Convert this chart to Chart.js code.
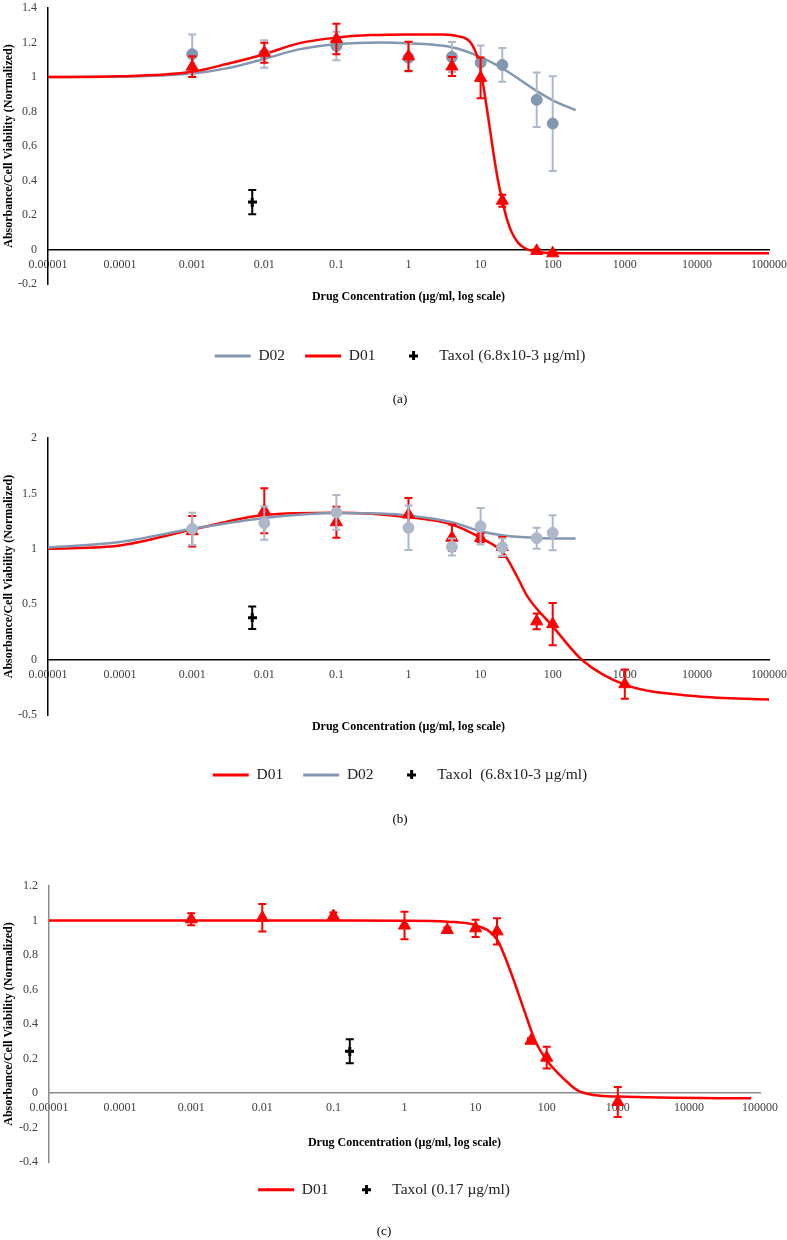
<!DOCTYPE html>
<html>
<head>
<meta charset="utf-8">
<script src="https://cdn.jsdelivr.net/npm/chart.js@4"></script>
<style>
  body { margin: 0; background: #fff; }
  canvas { display: block; }
</style>
</head>
<body>
<canvas id="chartA" width="787" height="412"></canvas>
<canvas id="chartB" width="787" height="418"></canvas>
<canvas id="chartC" width="787" height="410"></canvas>
<script>
// x axis ticks (shared by all three panels)
const xTickValues = [0.00001, 0.0001, 0.001, 0.01, 0.1, 1, 10, 100, 1000, 10000, 100000];
const xTickLabels = ['0.00001', '0.0001', '0.001', '0.01', '0.1', '1', '10', '100', '1000', '10000', '100000'];

// panel (a)
const concA = [0.001, 0.01, 0.1, 1, 4, 10, 20, 60, 100];
const d01A = [1.06, 1.141, 1.22, 1.12, 1.061, 0.995, 0.283, -0.008, -0.022];
const d01ErrA = [0.06, 0.058, 0.088, 0.085, 0.055, 0.118, 0.035, 0.01, 0.01];
const d02A = [1.132, 1.133, 1.18, 1.112, 1.116, 1.083, 1.07, 0.868, 0.73];
const d02ErrA = [0.115, 0.08, 0.083, 0.08, 0.087, 0.1, 0.098, 0.158, 0.275];
const fitConcD01A = [0.00001, 0.0001, 0.001, 0.003, 0.01, 0.03, 0.1, 0.3, 1, 3, 4.8, 7.3, 9.1, 10, 11, 12.4, 14, 16, 18, 20, 23, 27, 33, 40, 60, 100, 1000, 100000];
const fitD01A = [1.0, 1.004, 1.03, 1.075, 1.132, 1.195, 1.228, 1.243, 1.247, 1.247, 1.237, 1.199, 1.112, 1.04, 0.94, 0.8, 0.65, 0.49, 0.37, 0.285, 0.18, 0.1, 0.04, 0.01, -0.015, -0.02, -0.022, -0.022];
const fitConcD02A = [0.00001, 0.0001, 0.001, 0.003, 0.01, 0.03, 0.1, 0.4, 1, 4, 10, 21, 62, 103, 208];
const fitD02A = [1.0, 1.002, 1.02, 1.05, 1.105, 1.16, 1.19, 1.2, 1.195, 1.172, 1.115, 1.045, 0.915, 0.862, 0.808];
const taxolConcA = [0.0068];
const taxolA = [0.275];
const taxolErrA = [0.07];

// panel (b)
const concD01B = [0.001, 0.01, 0.1, 1, 4, 10, 20, 60, 100, 1000];
const d01B = [1.159, 1.344, 1.24, 1.309, 1.1, 1.098, 1.017, 0.345, 0.32, -0.222];
const d01ErrB = [0.138, 0.203, 0.14, 0.15, 0.12, 0.04, 0.09, 0.07, 0.19, 0.132];
const concD02B = [0.001, 0.01, 0.1, 1, 4, 10, 20, 60, 100];
const d02B = [1.18, 1.231, 1.328, 1.19, 1.017, 1.203, 1.014, 1.096, 1.144];
const d02ErrB = [0.145, 0.15, 0.157, 0.2, 0.077, 0.165, 0.08, 0.095, 0.158];
const fitConcD01B = [0.00001, 0.0001, 0.001, 0.01, 0.1, 1, 4, 10, 21, 32, 44.5, 100, 258, 1000, 10000, 100000];
const fitD01B = [1.0, 1.03, 1.173, 1.305, 1.325, 1.285, 1.218, 1.098, 0.955, 0.75, 0.571, 0.3, -0.006, -0.226, -0.331, -0.36];
const fitConcD02B = [0.00001, 0.0001, 0.001, 0.01, 0.1, 0.41, 1, 4, 10, 21, 62, 208];
const fitD02B = [1.012, 1.062, 1.18, 1.279, 1.324, 1.318, 1.3, 1.239, 1.158, 1.119, 1.098, 1.092];
const taxolConcB = [0.0068];
const taxolB = [0.378];
const taxolErrB = [0.102];

// panel (c)
const concC = [0.001, 0.01, 0.1, 1, 4, 10, 20, 60, 100, 1000];
const d01C = [1.007, 1.016, 1.026, 0.971, 0.945, 0.955, 0.937, 0.303, 0.205, -0.052];
const d01ErrC = [0.035, 0.08, 0.02, 0.08, 0.015, 0.05, 0.076, 0.015, 0.063, 0.087];
const fitConcD01C = [0.00001, 0.1, 1, 4, 10, 20, 30, 52, 68, 100, 171, 294, 1000, 75000];
const fitD01C = [1.0, 1.0, 0.999, 0.993, 0.972, 0.89, 0.72, 0.44, 0.307, 0.19, 0.085, 0.008, -0.021, -0.031];
const taxolConcC = [0.17];
const taxolC = [0.242];
const taxolErrC = [0.07];

const RED = '#ff0000';
const BLUEGREY = '#8497b0';
const LIGHTGREY = '#adb9ca';

Chart.defaults.font.family = '"Liberation Serif", "Times New Roman", serif';
Chart.defaults.color = '#000';

// small black plus used for the Taxol marker and its legend entry
const plusMark = document.createElement('canvas');
plusMark.width = 9;
plusMark.height = 9;
const pctx = plusMark.getContext('2d');
pctx.fillStyle = '#000';
pctx.fillRect(0, 3, 9, 3);
pctx.fillRect(3, 0, 3, 9);

const toPoints = (xs, ys) => xs.map((x, i) => ({ x: x, y: ys[i] }));

// vertical error bars with caps, drawn just under each dataset's markers
const errorBars = {
  id: 'errorBars',
  beforeDatasetDraw(chart, args) {
    const ds = chart.data.datasets[args.index];
    if (!ds.errors) return;
    const { ctx, scales } = chart;
    ctx.save();
    ctx.strokeStyle = ds.errorColor;
    ctx.lineWidth = 2;
    ds.data.forEach((p, i) => {
      const px = scales.x.getPixelForValue(p.x);
      const top = scales.y.getPixelForValue(p.y + ds.errors[i]);
      const bot = scales.y.getPixelForValue(p.y - ds.errors[i]);
      ctx.beginPath();
      ctx.moveTo(px, top); ctx.lineTo(px, bot);
      ctx.moveTo(px - 4, top); ctx.lineTo(px + 4, top);
      ctx.moveTo(px - 4, bot); ctx.lineTo(px + 4, bot);
      ctx.stroke();
    });
    ctx.restore();
  }
};

function fitLine(label, xs, ys, color, order) {
  return {
    label: label,
    data: toPoints(xs, ys),
    order: order,
    inLegend: true,
    showLine: true,
    borderColor: color,
    borderWidth: 2.5,
    cubicInterpolationMode: 'monotone',
    pointRadius: 0,
    pointStyle: 'line',
    pointBorderColor: color,
    pointBorderWidth: 3
  };
}

function markers(label, xs, ys, errs, shape, radius, fill, errColor, order) {
  return {
    label: label,
    data: toPoints(xs, ys),
    errors: errs,
    errorColor: errColor,
    order: order,
    pointStyle: shape,
    pointRadius: radius,
    backgroundColor: fill,
    borderColor: fill,
    borderWidth: 1
  };
}

function taxol(label, xs, ys, errs) {
  const ds = markers(label, xs, ys, errs, plusMark, 5, '#000', '#000', 0);
  ds.inLegend = true;
  return ds;
}

function buildPanel(id, p) {
  return new Chart(document.getElementById(id), {
    type: 'scatter',
    data: { datasets: p.datasets },
    options: {
      responsive: false,
      animation: false,
      events: [],
      layout: { padding: p.padding },
      scales: {
        x: {
          type: 'logarithmic',
          min: 0.00001,
          max: 100000,
          position: { y: 0 },
          grid: { display: false, drawTicks: true, tickLength: 8 },
          border: { color: p.axisColor, width: 1.5 },
          ticks: {
            padding: 0,
            color: '#404040',
            font: { size: 12 },
            maxRotation: 0,
            autoSkip: false,
            callback: (v, i) => xTickLabels[i]
          },
          afterBuildTicks: s => { s.ticks = xTickValues.map(v => ({ value: v })); },
          afterFit: s => { s.height = 0; }
        },
        xTitle: {
          axis: 'x',
          type: 'linear',
          position: 'bottom',
          grid: { display: false, drawTicks: false },
          border: { display: false },
          ticks: { display: false },
          title: {
            display: true,
            text: 'Drug Concentration (µg/ml, log scale)',
            color: '#000',
            font: { size: 12, weight: 'bold' },
            padding: p.xTitlePadding
          }
        },
        y: {
          min: p.yMin,
          max: p.yMax,
          grid: { display: false, drawTicks: true, tickLength: 11 },
          border: { color: p.axisColor, width: 1.5 },
          ticks: {
            stepSize: p.yStep,
            padding: 0,
            color: '#404040',
            font: { size: 12 },
            callback: v => String(Math.round(v * 100) / 100)
          },
          title: {
            display: true,
            text: 'Absorbance/Cell Viability (Normalized)',
            color: '#000',
            font: { size: 12, weight: 'bold' },
            padding: { top: p.yTitlePad, bottom: 0 }
          },
          afterFit: s => { s.width = p.yWidth; }
        }
      },
      plugins: {
        legend: {
          position: 'bottom',
          labels: {
            usePointStyle: true,
            pointStyleWidth: 36,
            boxHeight: 7,
            padding: 20,
            color: '#222',
            font: { size: 15.5 },
            filter: (item, data) => data.datasets[item.datasetIndex].inLegend === true,
            sort: (a, b) => a.datasetIndex - b.datasetIndex
          }
        },
        title: {
          display: true,
          position: 'bottom',
          text: p.caption,
          color: '#000',
          font: { size: 13, weight: 'normal' },
          padding: { top: p.captionPad, bottom: 0 }
        },
        tooltip: { enabled: false }
      }
    },
    plugins: [errorBars]
  });
}

buildPanel('chartA', {
  caption: '(a)',
  yMin: -0.2, yMax: 1.4, yStep: 0.2,
  axisColor: '#000',
  padding: { top: 0, right: 0, bottom: 4.2, left: 13 },
  yWidth: 35, yTitlePad: -11.5,
  xTitlePadding: { top: 5.8, bottom: 24 },
  captionPad: 18.5,
  datasets: [
    fitLine('D02', fitConcD02A, fitD02A, BLUEGREY, 4),
    fitLine('D01', fitConcD01A, fitD01A, RED, 3),
    taxol('Taxol (6.8x10-3 µg/ml)', taxolConcA, taxolA, taxolErrA),
    markers('D02 data', concA, d02A, d02ErrA, 'circle', 5.5, BLUEGREY, LIGHTGREY, 2),
    markers('D01 data', concA, d01A, d01ErrA, 'triangle', 7, RED, RED, 1)
  ]
});

buildPanel('chartB', {
  caption: '(b)',
  yMin: -0.5, yMax: 2, yStep: 0.5,
  axisColor: '#000',
  padding: { top: 26, right: 0, bottom: 2.2, left: 13 },
  yWidth: 35, yTitlePad: -11.5,
  xTitlePadding: { top: 4.8, bottom: 13 },
  captionPad: 19.5,
  datasets: [
    fitLine('D01', fitConcD01B, fitD01B, RED, 4),
    fitLine('D02', fitConcD02B, fitD02B, BLUEGREY, 3),
    taxol('Taxol  (6.8x10-3 µg/ml)', taxolConcB, taxolB, taxolErrB),
    markers('D01 data', concD01B, d01B, d01ErrB, 'triangle', 7, RED, RED, 2),
    markers('D02 data', concD02B, d02B, d02ErrB, 'circle', 5.5, LIGHTGREY, LIGHTGREY, 1)
  ]
});

buildPanel('chartC', {
  caption: '(c)',
  yMin: -0.4, yMax: 1.2, yStep: 0.2,
  axisColor: '#8c8c8c',
  padding: { top: 56, right: 27, bottom: 0.2, left: 8 },
  yWidth: 41, yTitlePad: -6,
  xTitlePadding: { top: -26.2, bottom: 11.8 },
  captionPad: 16.7,
  datasets: [
    fitLine('D01', fitConcD01C, fitD01C, RED, 2),
    taxol('Taxol (0.17 µg/ml)', taxolConcC, taxolC, taxolErrC),
    markers('D01 data', concC, d01C, d01ErrC, 'triangle', 7, RED, RED, 1)
  ]
});
</script>
</body>
</html>
